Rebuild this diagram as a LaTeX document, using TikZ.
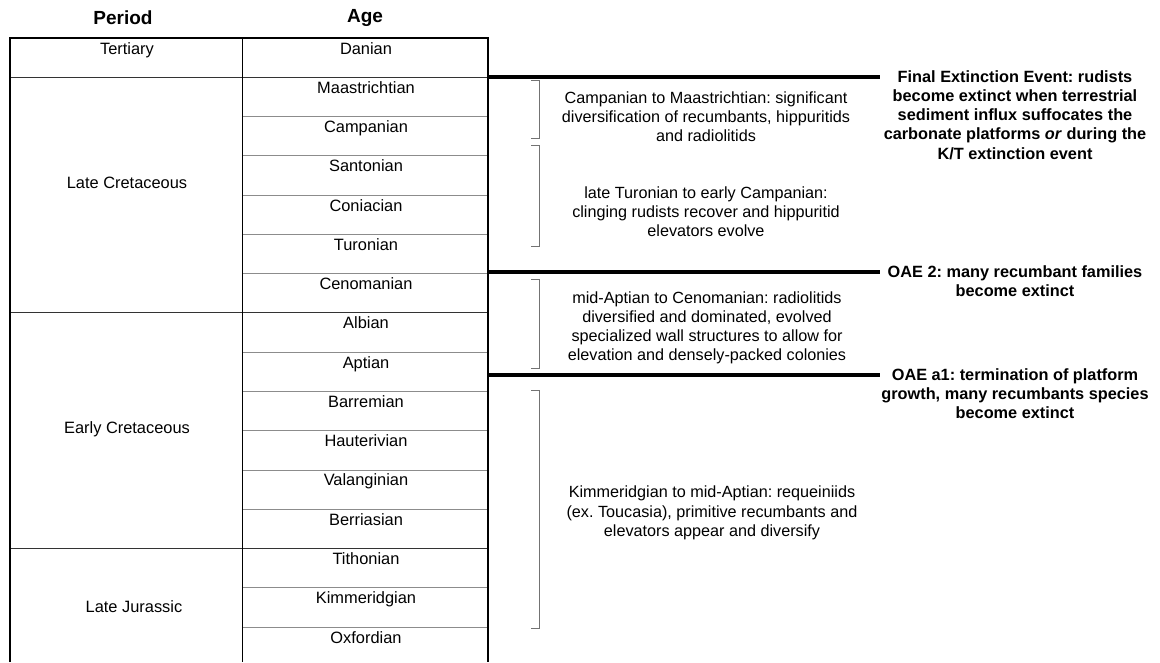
\documentclass[tikz,border=0pt]{standalone}
\usepackage{fontspec}
\setmainfont{Liberation Sans}
\frenchspacing
\begin{document}
\begin{tikzpicture}[x=1pt,y=-1pt,
  agerule/.style={draw=black!45, line width=0.9pt},
  periodrule/.style={draw=black!80, line width=0.9pt},
  frameline/.style={draw=black, line width=2.6pt},
  divider/.style={draw=black, line width=1pt},
  eventline/.style={draw=black, line width=4.8pt},
  bracketline/.style={draw=black!55, line width=0.9pt},
  cell/.style={font=\fontsize{16.4}{19}\selectfont, inner sep=0pt, anchor=base},
  hdr/.style={font=\fontsize{19}{22}\selectfont\bfseries, inner sep=0pt},
  note/.style={font=\fontsize{16.2}{19.2}\selectfont, align=center, inner sep=0pt},
  event/.style={font=\fontsize{16.3}{19.3}\selectfont\bfseries, align=center, inner sep=0pt}]
\fill[white] (0,0) rectangle (1160,662);
\useasboundingbox (0,0) rectangle (1160,662);
\def\rowh{39.27}
% headers
\node[hdr] (hperiod) at (123,18) {Period};
\node[hdr] (hage) at (365,18) {Age};
% age rules
\foreach \k in {2,3,4,5,6,8,9,10,11,12,14,15}
  \draw[agerule] (242,38+\rowh*\k) -- (488,38+\rowh*\k);
\foreach \k in {1,7,13}
  \draw[periodrule] (10,38+\rowh*\k) -- (488,38+\rowh*\k);
\draw[divider] (242,38) -- (242,662);
\draw[frameline] (10,662) -- (10,38) -- (488,38) -- (488,662);
% age labels
\foreach \n [count=\k from 0] in {Danian,Maastrichtian,Campanian,Santonian,Coniacian,Turonian,Cenomanian,Albian,Aptian,Barremian,Hauterivian,Valanginian,Berriasian,Tithonian,Kimmeridgian,Oxfordian}
  \node[cell] (age\k) at (366,38+\rowh*\k+16) {\n};
% period labels
\node[cell] (tert) at (127,54) {Tertiary};
\node[cell] (latecret) at (127,188) {Late Cretaceous};
\node[cell] (earlycret) at (127,433) {Early Cretaceous};
\node[cell] (latejur) at (134,612) {Late Jurassic};
% event lines
\coordinate (e1) at (488,77);
\coordinate (e2) at (488,272);
\coordinate (e3) at (488,375);
\coordinate (lineend) at (880,0);
\draw[eventline] (e1) -- (e1 -| lineend);
\draw[eventline] (e2) -- (e2 -| lineend);
\draw[eventline] (e3) -- (e3 -| lineend);
% event labels
\node[event, anchor=north] (ev1) at (1015,70) {Final Extinction Event: rudists\\become extinct when terrestrial\\sediment influx suffocates the\\carbonate platforms \textit{or} during the\\K/T extinction event};
\node[event, anchor=north] (ev2) at (1015,265) {OAE 2: many recumbant families\\become extinct};
\node[event, anchor=north] (ev3) at (1015,368) {OAE a1: termination of platform\\growth, many recumbants species\\become extinct};
% brackets
\draw[bracketline] (531,80) -- (539,80) -- (539,138) -- (531,138);
\draw[bracketline] (531,145) -- (539,145) -- (539,246) -- (531,246);
\draw[bracketline] (531,279) -- (539,279) -- (539,368) -- (531,368);
\draw[bracketline] (531,390) -- (539,390) -- (539,628) -- (531,628);
% notes
\node[note] (n1) at (706,117) {Campanian to Maastrichtian: significant\\diversification of recumbants, hippuritids\\and radiolitids};
\node[note] (n2) at (706,212) {late Turonian to early Campanian:\\clinging rudists recover and hippuritid\\elevators evolve};
\node[note] (n3) at (707,328) {mid-Aptian to Cenomanian: radiolitids\\diversified and dominated, evolved\\specialized wall structures to allow for\\elevation and densely-packed colonies};
\node[note] (n4) at (712,513) {Kimmeridgian to mid-Aptian: requeiniids\\(ex. Toucasia), primitive recumbants and\\elevators appear and diversify};
\end{tikzpicture}
\end{document}
